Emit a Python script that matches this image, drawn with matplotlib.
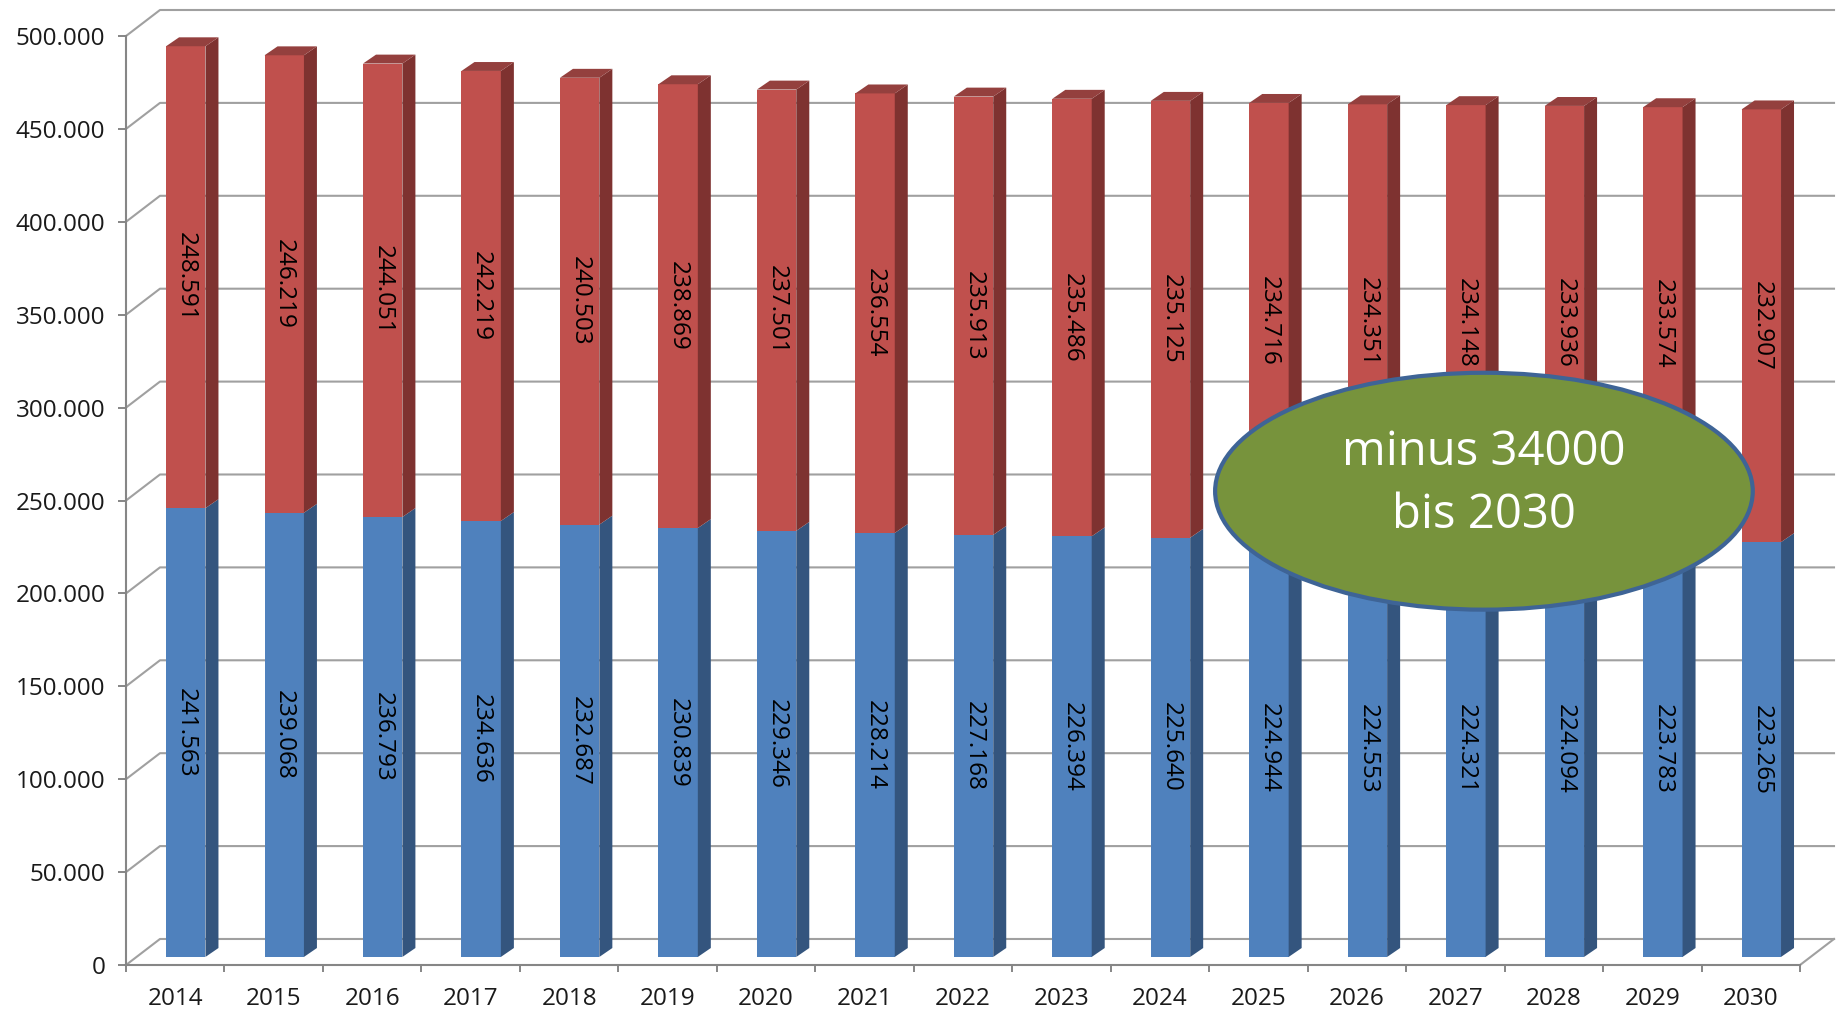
import matplotlib.pyplot as plt
import numpy as np
from matplotlib.patches import Polygon, Ellipse

# data
years = [str(y) for y in range(2014, 2031)]
blue_vals = [241563, 239068, 236793, 234636, 232687, 230839, 229346, 228214, 227168,
             226394, 225640, 224944, 224553, 224321, 224094, 223783, 223265]
red_vals = [248591, 246219, 244051, 242219, 240503, 238869, 237501, 236554, 235913,
            235486, 235125, 234716, 234351, 234148, 233936, 233574, 232907]
y_ticks = list(range(0, 500001, 50000))
note_text = "minus 34000\nbis 2030"

plt.rcParams['font.family'] = ['Open Sans', 'DejaVu Sans']

# 3d look (in data units)
DX, DY = 0.345, 14000      # full depth of the wall
F = 0.31                   # bars sit a bit back from the front
SDX, SDY = 0.132, 4800     # depth of a bar
BW = 0.4

n = len(years)
x = np.arange(n)

fig = plt.figure(figsize=(18.43, 10.14), dpi=100)
ax = fig.add_axes([126 / 1843, 49 / 1014, (1834 - 126) / 1843, (965 - 10) / 1014])
ax.set_xlim(-0.5, n - 0.5 + DX)
ax.set_ylim(0, 500000 + DY)
for s in ax.spines.values():
    s.set_visible(False)

grid_c = '#A0A0A0'
axis_c = '#868686'

# walls / gridlines
for v in y_ticks:
    ax.plot([-0.5, -0.5 + DX, n - 0.5 + DX], [v, v + DY, v + DY],
            color=grid_c, lw=1.5, zorder=1, clip_on=False)
ax.plot([n - 0.5, n - 0.5 + DX], [0, DY], color=grid_c, lw=1.5, zorder=1, clip_on=False)

faces = {
    'blue': ('#4F81BD', '#34557E', '#40689A'),
    'red': ('#C0504D', '#7E3230', '#94403E'),
}

def draw_seg(xc, base, h, cols, top):
    front, side, topc = cols
    x0 = xc - BW / 2 + F * DX
    x1 = xc + BW / 2 + F * DX
    y0 = base + F * DY
    y1 = y0 + h
    ax.bar(xc + F * DX, h, bottom=y0, width=BW, color=front, zorder=3, lw=0)
    ax.add_patch(Polygon([(x1, y0), (x1 + SDX, y0 + SDY), (x1 + SDX, y1 + SDY), (x1, y1)],
                         closed=True, facecolor=side, lw=0, zorder=3))
    if top:
        ax.add_patch(Polygon([(x0, y1), (x0 + SDX, y1 + SDY), (x1 + SDX, y1 + SDY), (x1, y1)],
                             closed=True, facecolor=topc, lw=0, zorder=3))
    return (x0 + x1) / 2, (y0 + y1) / 2

def fmt(v):
    return f"{v:,}".replace(",", ".")

for i in range(n):
    cx, cy = draw_seg(x[i], 0, blue_vals[i], faces['blue'], False)
    ax.text(cx, cy, fmt(blue_vals[i]), rotation=270, ha='center', va='center',
            fontsize=17.5, color='black', zorder=4)
    cx, cy = draw_seg(x[i], blue_vals[i], red_vals[i], faces['red'], True)
    ax.text(cx, cy, fmt(red_vals[i]), rotation=270, ha='center', va='center',
            fontsize=17.5, color='black', zorder=4)

# front axis lines
ax.plot([-0.5, -0.5], [0, 500000], color=axis_c, lw=1.5, zorder=4, clip_on=False)
ax.plot([-0.5, n - 0.5], [0, 0], color=axis_c, lw=1.5, zorder=4, clip_on=False)

ax.set_yticks(y_ticks)
ax.set_yticklabels([fmt(v) for v in y_ticks])
ax.tick_params(axis='y', length=6, width=1.4, color=axis_c, pad=9, labelsize=17.5,
               labelcolor='#1a1a1a')
ax.set_xticks(np.arange(-0.5, n, 1))
ax.set_xticklabels([])
ax.set_xticks(x, minor=True)
ax.set_xticklabels(years, minor=True)
ax.tick_params(axis='x', which='major', length=5, width=1.4, color=axis_c)
ax.tick_params(axis='x', which='minor', length=0, pad=16, labelsize=17.5, labelcolor='#1a1a1a')

# note
ell = Ellipse((13.29, 255000), 5.46, 127500, facecolor='#77933C', edgecolor='#3E6496',
              lw=3, zorder=6)
ax.add_patch(ell)
ax.text(13.29, 259000, note_text, ha='center', va='center', color='white',
        fontsize=34, linespacing=1.45, zorder=7)

fig.savefig('out.png', dpi=100)
